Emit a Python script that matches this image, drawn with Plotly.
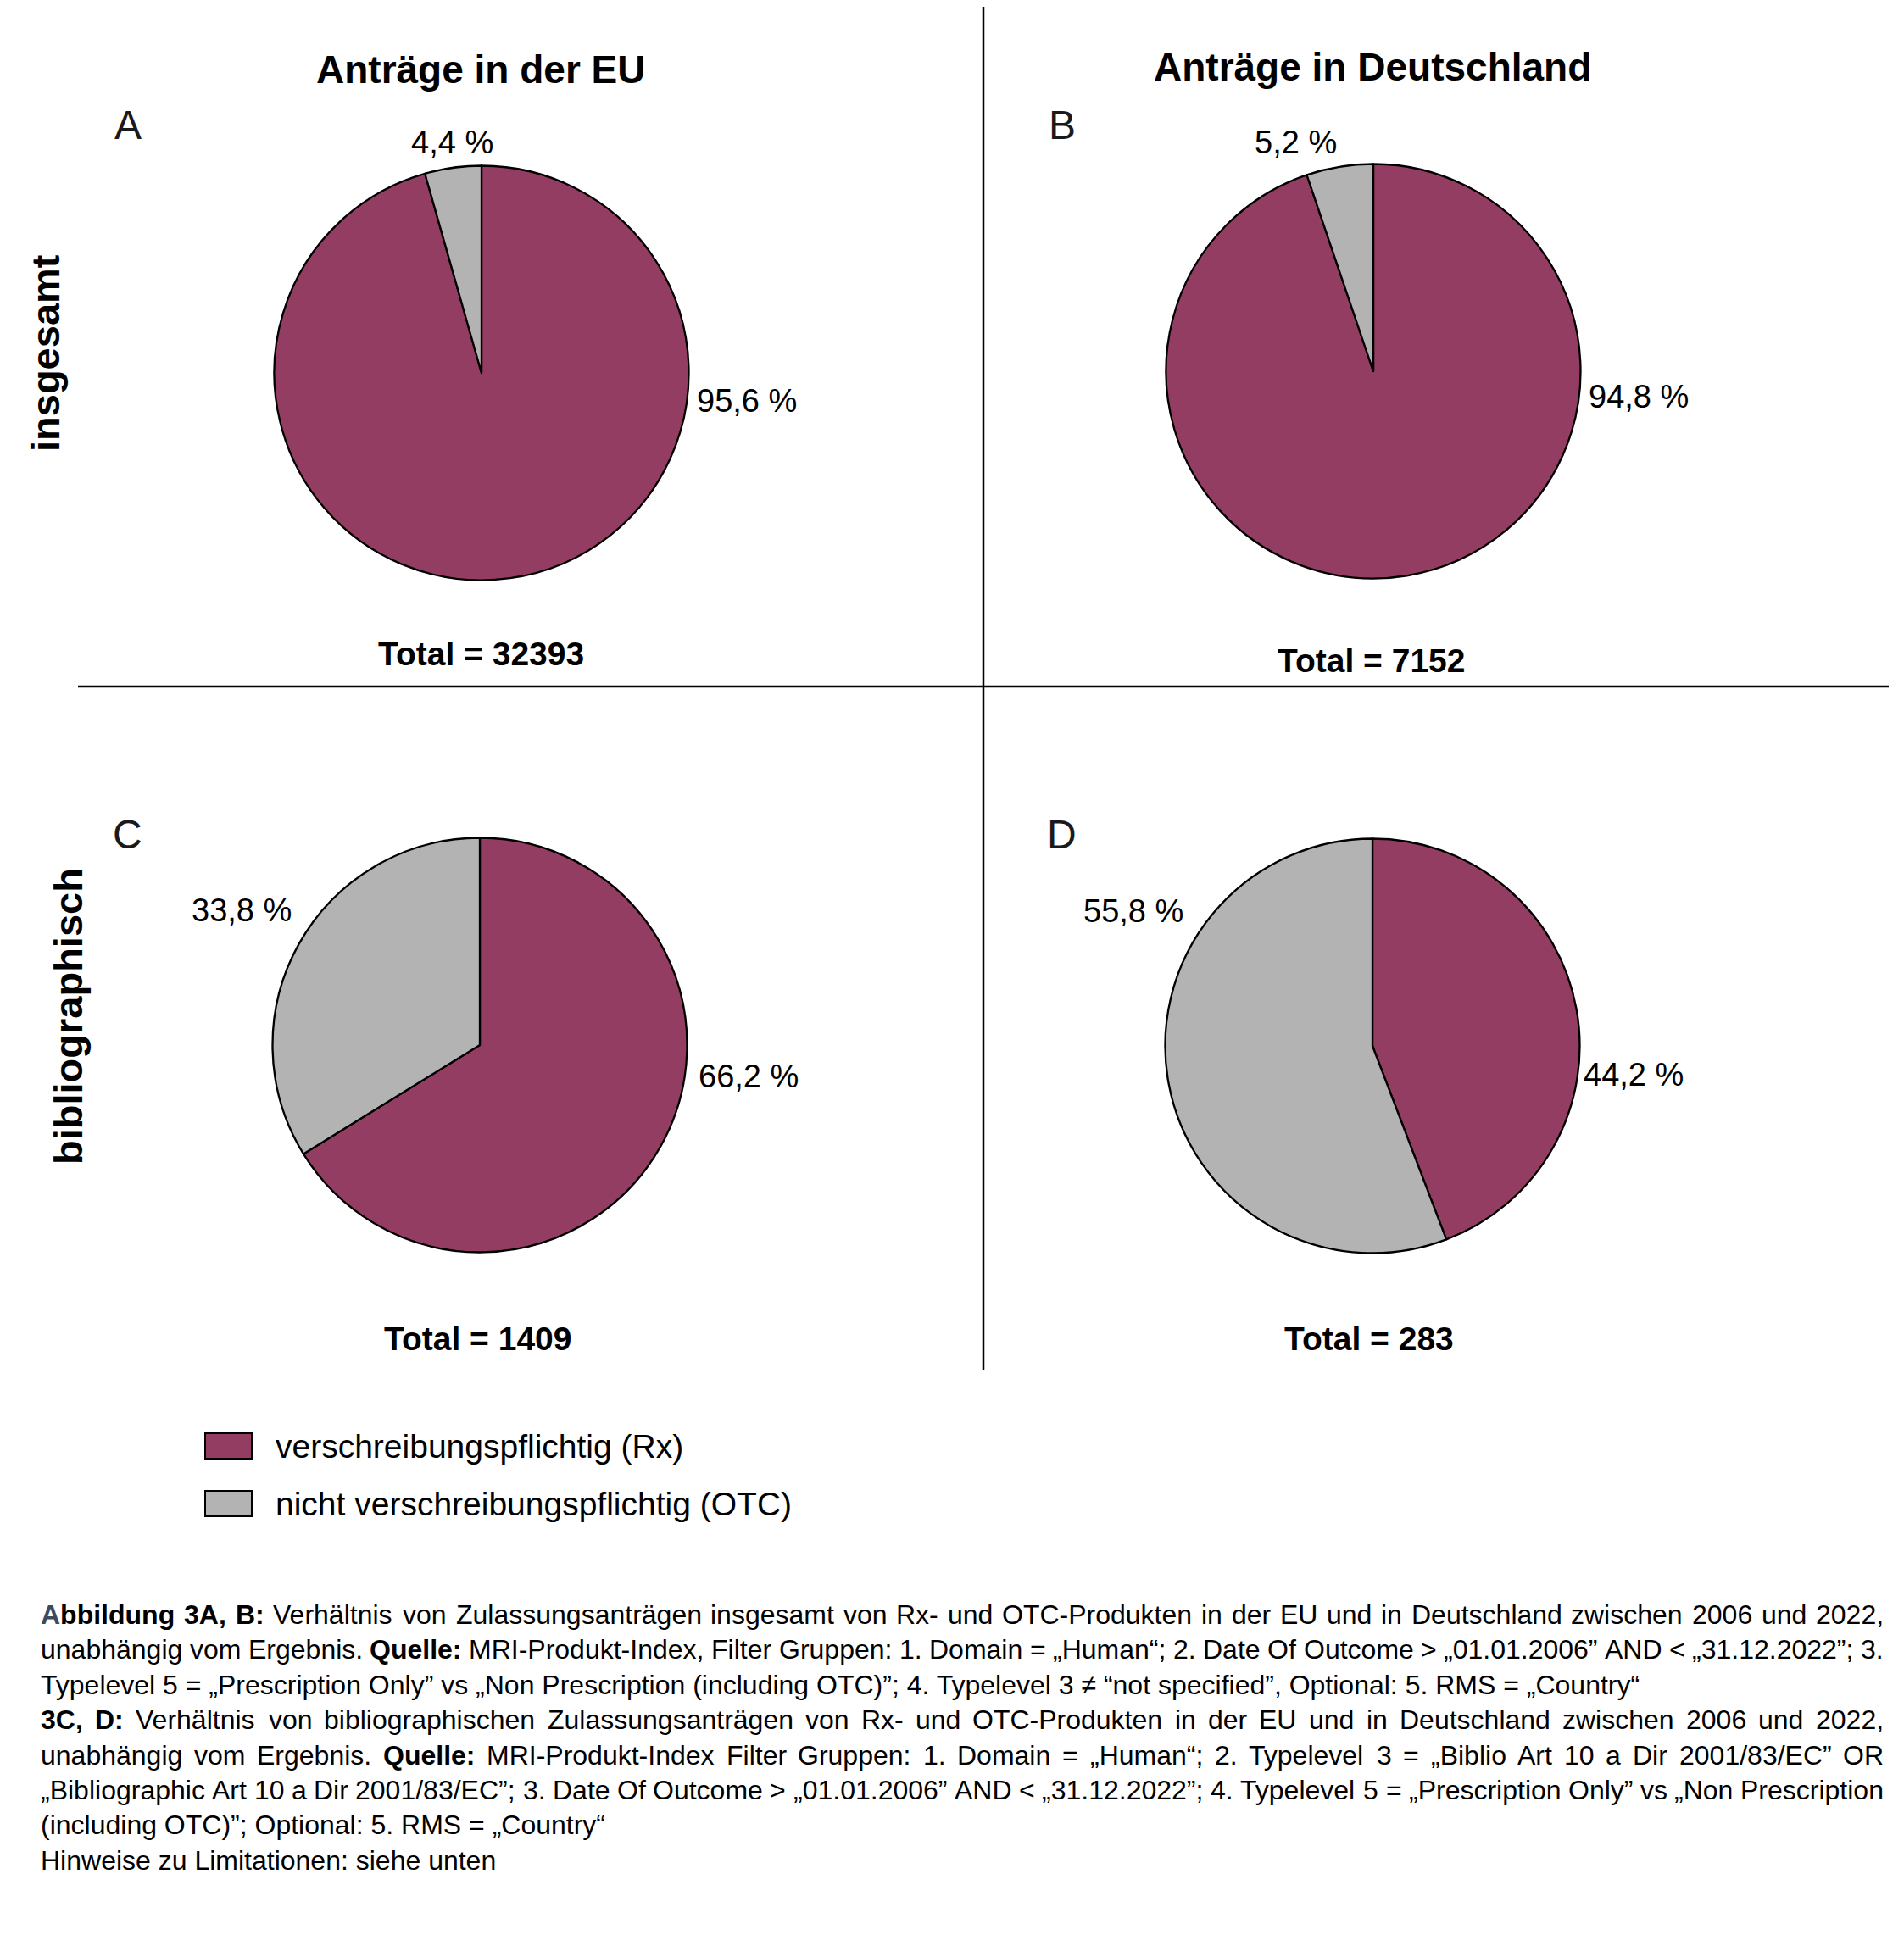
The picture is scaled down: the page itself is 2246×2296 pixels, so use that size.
import plotly.graph_objects as go

# ---------------- data ----------------
categories = ["verschreibungspflichtig (Rx)", "nicht verschreibungspflichtig (OTC)"]
panel_ids = ["A", "B", "C", "D"]
rx_pct = [95.6, 94.8, 66.2, 44.2]
otc_pct = [4.4, 5.2, 33.8, 55.8]
totals = [32393, 7152, 1409, 283]
column_titles = ["Anträge in der EU", "Anträge in Deutschland"]
row_titles = ["insgesamt", "bibliographisch"]

# caption: paragraphs -> lines -> segments (text, bold)
caption_paragraphs = [
    [
        [("Abbildung 3A, B:", True), ("Verhältnis von Zulassungsanträgen insgesamt von Rx- und OTC-Produkten in der EU und in Deutschland zwischen 2006 und 2022,", False)],
        [("unabhängig vom Ergebnis.", False), ("Quelle:", True), ("MRI-Produkt-Index, Filter Gruppen: 1. Domain = „Human“; 2. Date Of Outcome > „01.01.2006” AND < „31.12.2022”; 3.", False)],
        [("Typelevel 5 = „Prescription Only” vs „Non Prescription (including OTC)”; 4. Typelevel 3 ≠ “not specified”, Optional: 5. RMS = „Country“", False)],
    ],
    [
        [("3C, D:", True), ("Verhältnis von bibliographischen Zulassungsanträgen von Rx- und OTC-Produkten in der EU und in Deutschland zwischen 2006 und 2022,", False)],
        [("unabhängig vom Ergebnis.", False), ("Quelle:", True), ("MRI-Produkt-Index Filter Gruppen: 1. Domain = „Human“; 2. Typelevel 3 = „Biblio Art 10 a Dir 2001/83/EC” OR", False)],
        [("„Bibliographic Art 10 a Dir 2001/83/EC”; 3. Date Of Outcome > „01.01.2006” AND < „31.12.2022”; 4. Typelevel 5 = „Prescription Only” vs „Non Prescription", False)],
        [("(including OTC)”; Optional: 5. RMS = „Country“", False)],
    ],
    [
        [("Hinweise zu Limitationen: siehe unten", False)],
    ],
]

# ---------------- styling / layout (pixels in the 2246x2296 window) ----------------
WIN_W, WIN_H = 2246, 2296
OFF = 8                      # page body margin of the html page
W, H = WIN_W - 2 * OFF, WIN_H - 2 * OFF
COL_RX = "#943d62"
COL_OTC = "#b3b3b3"
COL_INITIAL = "#3d4b5f"
FONT = "Liberation Sans, Arial, Helvetica, sans-serif"

pie_centers = [(568, 440), (1620, 438), (566, 1233), (1619, 1234)]
pie_radius = 244.5
rx_label_pos = [(881, 473), (1933, 468), (883, 1270), (1927, 1268)]
otc_label_pos = [(533, 168), (1528, 168), (285, 1074), (1337, 1075)]
total_pos = [(567, 772), (1617, 779), (563, 1579), (1615, 1579)]
letter_pos = [(151, 148), (1253, 148), (150, 984), (1252, 984)]
col_title_pos = [(567, 82), (1619, 79)]
row_title_pos = [(54, 417), (80, 1199)]
legend_rows = [1706, 1774]
CAP_X0, CAP_X1, CAP_Y0, CAP_DY, CAP_SIZE = 48, 2222, 1905, 41.4, 32


def X(px):
    return (px - OFF) / W


def Y(py):
    return 1 - (py - OFF) / H


def fmt_pct(v):
    return f"{v:.1f}".replace(".", ",") + " %"


# Helvetica / Arial advance widths (1/1000 em) for estimating word widths
REG = {" ": 278, ",": 278, ".": 278, ":": 278, ";": 278, "-": 333, "/": 278, "(": 333, ")": 333,
       "=": 584, ">": 584, "<": 584, "„": 333, "“": 333, "”": 333, "≠": 584, "%": 889,
       "A": 667, "B": 667, "C": 722, "D": 722, "E": 667, "F": 611, "G": 778, "H": 722, "I": 278,
       "J": 500, "K": 667, "L": 556, "M": 833, "N": 722, "O": 778, "P": 667, "Q": 778, "R": 722,
       "S": 667, "T": 611, "U": 722, "V": 667, "W": 944, "X": 667, "Y": 667, "Z": 611,
       "a": 556, "b": 556, "c": 500, "d": 556, "e": 556, "f": 278, "g": 556, "h": 556, "i": 222,
       "j": 222, "k": 500, "l": 222, "m": 833, "n": 556, "o": 556, "p": 556, "q": 556, "r": 333,
       "s": 500, "t": 278, "u": 556, "v": 500, "w": 722, "x": 500, "y": 500, "z": 500,
       "ä": 556, "ö": 556, "ü": 556}
BOLD = dict(REG)
BOLD.update({":": 333, "A": 722, "B": 722, "C": 722, "D": 722, "Q": 778, "a": 556, "b": 611,
             "d": 611, "e": 556, "g": 611, "i": 278, "l": 278, "n": 611, "u": 611})


def text_width(s, bold, size):
    tab = BOLD if bold else REG
    return sum(tab.get(ch, 556) for ch in s) * size / 1000.0


def esc(s):
    return s.replace("&", "&amp;").replace("<", "&lt;").replace(">", "&gt;")


fig = go.Figure()

for i in range(4):
    cx, cy = pie_centers[i]
    fig.add_trace(go.Pie(
        values=[rx_pct[i], otc_pct[i]],
        labels=categories,
        marker=dict(colors=[COL_RX, COL_OTC], line=dict(color="black", width=2.3)),
        sort=False,
        direction="clockwise",
        rotation=0,
        textinfo="none",
        hoverinfo="label+percent",
        showlegend=False,
        domain=dict(x=[X(cx - pie_radius), X(cx + pie_radius)],
                    y=[Y(cy + pie_radius), Y(cy - pie_radius)]),
    ))

annotations = []


def add_text(text, px, py, size, bold=False, xanchor="center", angle=0, color="black"):
    annotations.append(dict(
        text=f"<b>{text}</b>" if bold else text,
        x=X(px), y=Y(py), xref="paper", yref="paper",
        xanchor=xanchor, yanchor="middle", showarrow=False,
        textangle=angle, borderpad=0, borderwidth=0,
        font=dict(family=FONT, size=size, color=color),
    ))


for j, t in enumerate(column_titles):
    add_text(t, *col_title_pos[j], 46, bold=True)
for j, t in enumerate(row_titles):
    add_text(t, *row_title_pos[j], 47, bold=True, angle=-90)

for i in range(4):
    add_text(panel_ids[i], *letter_pos[i], 48, color="#1a1a1a")
    add_text(fmt_pct(rx_pct[i]), *rx_label_pos[i], 38)
    add_text(fmt_pct(otc_pct[i]), *otc_label_pos[i], 38)
    add_text(f"Total = {totals[i]}", *total_pos[i], 39, bold=True)

# legend (manual, large swatches)
legend_colors = [COL_RX, COL_OTC]
shapes = []
for k, name in enumerate(categories):
    yc = legend_rows[k]
    shapes.append(dict(type="rect", xref="paper", yref="paper",
                       x0=X(242), x1=X(297), y0=Y(yc + 15), y1=Y(yc - 15),
                       fillcolor=legend_colors[k], line=dict(color="black", width=2)))
    add_text(name, 325, yc, 39, xanchor="left")


# caption, justified like the reference
def word_markup(word, bold, first):
    t = esc(word)
    if first:
        t = f'<span style="color:{COL_INITIAL}">{esc(word[0])}</span>' + esc(word[1:])
    return f"<b>{t}</b>" if bold else t


line_no = 0
first_char_done = False
for para in caption_paragraphs:
    for li, segs in enumerate(para):
        yline = CAP_Y0 + CAP_DY * line_no
        words = []
        for text, bold in segs:
            for w in text.split(" "):
                if w:
                    words.append((w, bold))
        last_line = li == len(para) - 1
        if last_line:
            parts = []
            for wi, (w, b) in enumerate(words):
                first = not first_char_done and wi == 0
                parts.append(word_markup(w, b, first))
            first_char_done = True
            add_text(" ".join(parts), CAP_X0, yline, CAP_SIZE, xanchor="left")
        else:
            widths = [text_width(w, b, CAP_SIZE) for w, b in words]
            gap = (CAP_X1 - CAP_X0 - sum(widths)) / (len(words) - 1)
            xpos = CAP_X0
            for wi, (w, b) in enumerate(words):
                first = not first_char_done and wi == 0
                markup = word_markup(w, b, first)
                if wi == len(words) - 1:
                    add_text(markup, CAP_X1, yline, CAP_SIZE, xanchor="right")
                else:
                    add_text(markup, xpos, yline, CAP_SIZE, xanchor="left")
                xpos += widths[wi] + gap
            first_char_done = True
        line_no += 1

# divider lines
shapes.append(dict(type="line", xref="paper", yref="paper",
                   x0=X(1160), x1=X(1160), y0=Y(7), y1=Y(1616),
                   line=dict(color="black", width=2.5)))
shapes.append(dict(type="line", xref="paper", yref="paper",
                   x0=X(92), x1=X(2228), y0=Y(810), y1=Y(810),
                   line=dict(color="black", width=2.5)))

fig.update_layout(
    width=W, height=H,
    margin=dict(l=0, r=0, t=0, b=0),
    paper_bgcolor="white", plot_bgcolor="white",
    annotations=annotations,
    shapes=shapes,
    font=dict(family=FONT),
)

fig.write_html("out.html")
